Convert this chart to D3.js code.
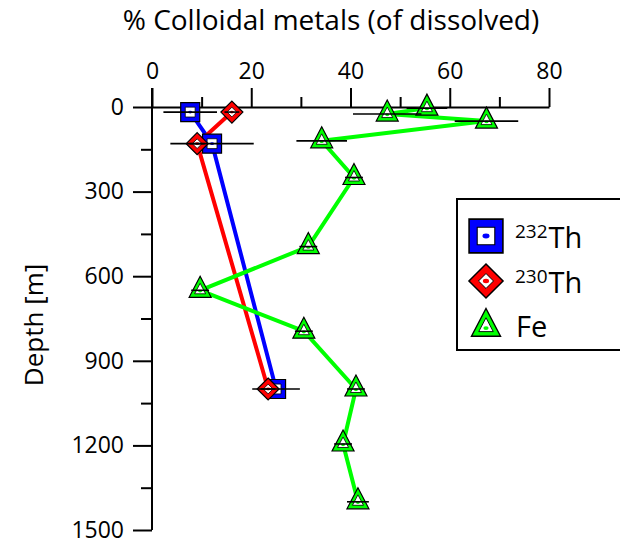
<!DOCTYPE html>
<html>
<head>
<meta charset="utf-8">
<script src="https://cdn.jsdelivr.net/npm/d3@7/dist/d3.min.js"></script>
<style>
  html, body { margin: 0; padding: 0; background: #fff; }
  svg { display: block; font-family: "Open Sans", "Noto Sans", sans-serif; }
</style>
</head>
<body>
<svg id="chart" width="620" height="552"></svg>
<script>
// Colloidal fraction (% of dissolved) versus depth, three tracers
const th232Depth = [18, 130, 1000];
const th232Value = [7.7, 12.1, 25.0];
const th232Err   = [5.4, 8.4, 4.8];

const th230Depth = [18, 130, 1000];
const th230Value = [16.1, 9.1, 23.4];
const th230Err   = [1.5, 1.5, 1.5];

const feDepth = [4, 25, 50, 120, 250, 495, 650, 795, 1000, 1195, 1400];
const feValue = [55.4, 47.4, 67.4, 34.2, 40.7, 31.5, 9.7, 30.6, 41.1, 38.5, 41.5];
const feErr   = [4.1, 6.9, 6.4, 5.1, 1.8, 1.8, 1.8, 1.8, 1.8, 1.8, 2.2];

const xTicks = [0, 20, 40, 60, 80];
const yTicks = [0, 300, 600, 900, 1200, 1500];

const series = [
  { key: "232", label: "Th", sup: "232", color: "#0000ff", shape: "square",   depth: th232Depth, value: th232Value, err: th232Err },
  { key: "230", label: "Th", sup: "230", color: "#ff0000", shape: "diamond",  depth: th230Depth, value: th230Value, err: th230Err },
  { key: "fe",  label: "Fe", sup: "",    color: "#00ff00", shape: "triangle", depth: feDepth,    value: feValue,    err: feErr }
];

const svg = d3.select("#chart");
const x = d3.scaleLinear().domain([0, 80]).range([152, 549]);
const y = d3.scaleLinear().domain([0, 1500]).range([107, 530]);

// marker outlines: outer shape and inner white shape at a given scale
function shapePath(shape, s) {
  if (shape === "square") {
    const h = 9.5 * s;
    return `M${-h},${-h}H${h}V${h}H${-h}Z`;
  }
  if (shape === "diamond") {
    const h = 11 * s;
    return `M0,${-h}L${h},0L0,${h}L${-h},0Z`;
  }
  // upward triangle centred on its centroid
  return `M0,${-14 * s}L${11 * s},${7 * s}L${-11 * s},${7 * s}Z`;
}

const innerRatio = { square: 0.52, diamond: 0.44, triangle: 0.5 };

function drawMarker(g, shape, color, k = 1) {
  g.append("path").attr("d", shapePath(shape, k))
    .attr("fill", color).attr("stroke", "#000").attr("stroke-width", 1.2 * Math.sqrt(k));
  g.append("path").attr("d", shapePath(shape, innerRatio[shape] * k))
    .attr("fill", "#fff").attr("stroke", "#000").attr("stroke-width", 0.8 * Math.sqrt(k));
  g.append("ellipse").attr("cx", 0).attr("cy", shape === "triangle" ? 0.8 * k : 0)
    .attr("rx", 2 * k).attr("ry", 1.4 * k).attr("fill", color);
}

// top axis (value)
const xMinor = d3.range(0, 81, 10).filter(v => v % 20 !== 0);
svg.append("g").attr("transform", `translate(0,${y(0)})`)
  .call(d3.axisTop(x).tickValues(xMinor).tickSize(10).tickFormat(""))
  .call(g => g.select(".domain").remove())
  .call(g => g.selectAll("line").attr("stroke-width", 2));
const xAxis = svg.append("g").attr("transform", `translate(0,${y(0)})`)
  .call(d3.axisTop(x).tickValues(xTicks).tickSize(19).tickSizeOuter(0)
    .tickPadding(9).tickFormat(d3.format("d")));
xAxis.select(".domain").attr("stroke-width", 2);
xAxis.selectAll("line").attr("stroke-width", 2);
xAxis.selectAll("text").attr("font-size", 23).attr("fill", "#000")
  .attr("font-family", "'Open Sans', sans-serif");

// left axis (depth)
const yMinor = d3.range(150, 1500, 300);
svg.append("g").attr("transform", `translate(${x(0)},0)`)
  .call(d3.axisLeft(y).tickValues(yMinor).tickSize(11).tickFormat(""))
  .call(g => g.select(".domain").remove())
  .call(g => g.selectAll("line").attr("stroke-width", 2));
const yAxis = svg.append("g").attr("transform", `translate(${x(0)},0)`)
  .call(d3.axisLeft(y).tickValues(yTicks).tickSize(19).tickSizeOuter(0)
    .tickPadding(9).tickFormat(d3.format("d")));
yAxis.select(".domain").attr("stroke-width", 2)
  .attr("d", `M0,${y(0) - 19}V${y(1500)}`);
yAxis.selectAll("line").attr("stroke-width", 2);
yAxis.selectAll("text").attr("font-size", 23).attr("fill", "#000")
  .attr("font-family", "'Open Sans', sans-serif");

// axis titles
svg.append("text").attr("x", 331).attr("y", 30).attr("text-anchor", "middle")
  .attr("font-size", 28).text("% Colloidal metals (of dissolved)");
svg.append("text").attr("transform", `translate(43,325) rotate(-90)`)
  .attr("text-anchor", "middle").attr("font-size", 26).text("Depth [m]");

// connecting lines
const line = d3.line().x(d => x(d.v)).y(d => y(d.d));
series.forEach(s => {
  s.points = s.depth.map((d, i) => ({ d, v: s.value[i], e: s.err[i] }));
});
series.forEach(s => {
  svg.append("path").datum(s.points).attr("d", line)
    .attr("fill", "none").attr("stroke", s.color).attr("stroke-width", 4)
    .attr("stroke-linejoin", "round");
});

// markers
series.forEach(s => {
  s.points.forEach(p => {
    const g = svg.append("g").attr("transform", `translate(${x(p.v)},${y(p.d)})`);
    drawMarker(g, s.shape, s.color);
  });
});

// horizontal error bars
series.forEach(s => {
  svg.append("g").selectAll("line").data(s.points).join("line")
    .attr("x1", d => x(d.v - d.e)).attr("x2", d => x(d.v + d.e))
    .attr("y1", d => y(d.d)).attr("y2", d => y(d.d))
    .attr("stroke", "#000").attr("stroke-width", 1.6);
});

// legend
const lg = svg.append("g");
lg.append("rect").attr("x", 457).attr("y", 199).attr("width", 200).attr("height", 151)
  .attr("fill", "#fff").attr("stroke", "#000").attr("stroke-width", 2);
const legY = [236, 281, 327];
const legScale = { square: 1.78, diamond: 1.55, triangle: 1.32 };
series.forEach((s, i) => {
  const g = lg.append("g").attr("transform", `translate(486,${legY[i]})`);
  drawMarker(g, s.shape, s.color, legScale[s.shape]);
  const ty = s.shape === "triangle" ? legY[i] + 10 : legY[i] + 12;
  const t = lg.append("text").attr("x", 515).attr("y", ty).attr("font-size", 29);
  if (s.sup) {
    t.append("tspan").attr("font-size", 19).attr("dy", -10).text(s.sup);
    t.append("tspan").attr("dy", 10).attr("dx", 1).text(s.label);
  } else {
    t.append("tspan").attr("dx", 1).text(s.label);
  }
});
</script>
</body>
</html>
